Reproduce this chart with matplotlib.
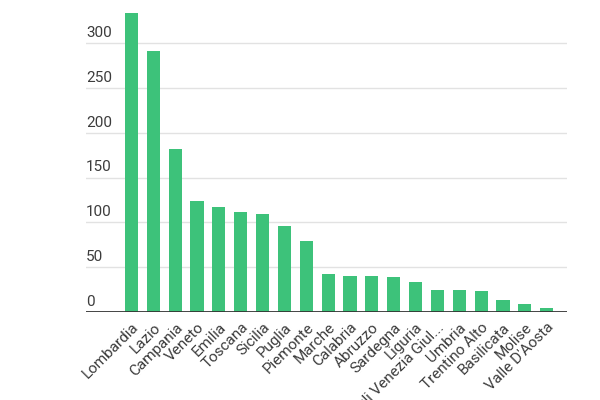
import matplotlib.pyplot as plt

plt.rcParams['font.family'] = ['Roboto', 'DejaVu Sans']

regions = ['Lombardia', 'Lazio', 'Campania', 'Veneto', 'Emilia', 'Toscana',
           'Sicilia', 'Puglia', 'Piemonte', 'Marche', 'Calabria', 'Abruzzo',
           'Sardegna', 'Liguria', 'Friuli Venezia Giul...', 'Umbria',
           'Trentino Alto', 'Basilicata', 'Molise', "Valle D'Aosta"]
values = [333, 291, 182, 124, 117, 111, 109, 96, 79, 42, 40, 40, 38.5, 34,
          25, 24, 23, 13, 9, 4]
yticks = [0, 50, 100, 150, 200, 250, 300]

fig = plt.figure(figsize=(6, 4), dpi=100)
# axes: left edge at 86 px, right at 567 px, bottom (value 0) at 312 px
ax = fig.add_axes([86 / 600, 88 / 400, 481 / 600, 312 / 400])

x = range(len(regions))
ax.bar(x, values, width=0.6, color='#3dc27a', zorder=3)

ax.set_xlim(-2.08, 19.93)
ax.set_ylim(0, 348)

for v in yticks[1:]:
    ax.axhline(v, color='#e2e2e2', lw=1, zorder=1)
ax.axhline(0, color='#333333', lw=2, zorder=4)

for v in yticks:
    ax.text(0.0, v + 3.5, str(v), transform=ax.get_yaxis_transform(),
            ha='left', va='bottom', fontsize=11, color='#3c3c3c')

ax.set_yticks([])
ax.set_xticks(list(x))
ax.set_xticklabels(regions, rotation=45, ha='right', va='top',
                   rotation_mode='anchor', fontsize=11, color='#3c3c3c')
ax.tick_params(axis='x', length=0, pad=6)

for s in ax.spines.values():
    s.set_visible(False)

fig.savefig('out.png', dpi=100)
